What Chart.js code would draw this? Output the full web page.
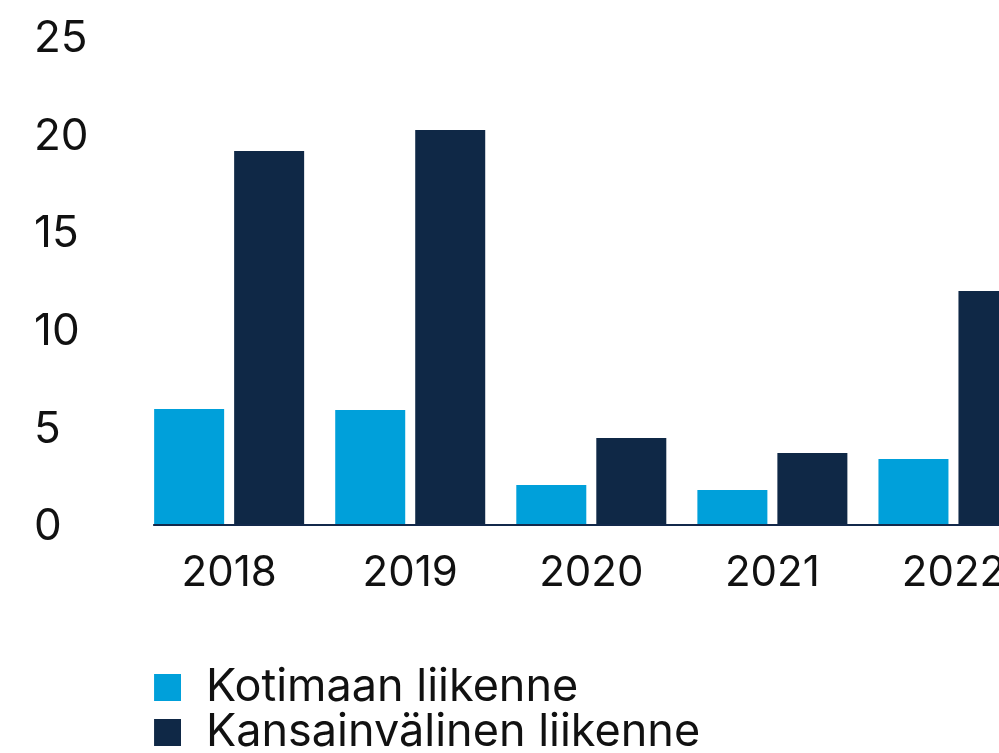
<!DOCTYPE html>
<html>
<head>
<meta charset="utf-8">
<script src="https://cdn.jsdelivr.net/npm/chart.js@4.4.1/dist/chart.umd.min.js"></script>
<style>
  html, body { margin: 0; padding: 0; background: #ffffff; overflow: hidden; }
  #wrap { position: relative; width: 1044px; height: 765px; }
</style>
</head>
<body>
<div id="wrap"><canvas id="c"></canvas></div>
<script>
const categories = ['2018', '2019', '2020', '2021', '2022'];
const seriesNames = ['Kotimaan liikenne', 'Kansainvälinen liikenne'];
const domestic = [5.89, 5.84, 2.0, 1.74, 3.33];
const international = [19.11, 20.18, 4.41, 3.64, 11.94];
const yTicks = [0, 5, 10, 15, 20, 25];

const COLOR_DOM = '#00A0DA';
const COLOR_INT = '#0F2846';
const AXIS_LINE = '#13294B';
const FONT = 'Inter';

function legendSwatch(color) {
  const cv = document.createElement('canvas');
  cv.width = 40; cv.height = 27;
  const g = cv.getContext('2d');
  g.fillStyle = color;
  g.fillRect(13, 0, 27, 27);
  return cv;
}
const swatches = [legendSwatch(COLOR_DOM), legendSwatch(COLOR_INT)];

const baselinePlugin = {
  id: 'baseline',
  afterDatasetsDraw(chart) {
    const meta = chart.getDatasetMeta(0);
    const first = meta.data[0];
    if (!first) return;
    const props = first.getProps(['x', 'width'], true);
    const x0 = props.x - props.width / 2 - 1;
    const y = chart.scales.y.getPixelForValue(0) + 1;
    const ctx = chart.ctx;
    ctx.save();
    ctx.strokeStyle = AXIS_LINE;
    ctx.lineWidth = 2;
    ctx.beginPath();
    ctx.moveTo(x0, y);
    ctx.lineTo(chart.chartArea.right, y);
    ctx.stroke();
    ctx.restore();
  }
};

function draw() {
  Chart.defaults.font.family = FONT;
  Chart.defaults.color = '#111111';
  new Chart(document.getElementById('c'), {
    type: 'bar',
    data: {
      labels: categories,
      datasets: [
        { label: seriesNames[0], data: domestic, backgroundColor: COLOR_DOM },
        { label: seriesNames[1], data: international, backgroundColor: COLOR_INT }
      ]
    },
    options: {
      responsive: true,
      maintainAspectRatio: false,
      animation: false,
      layout: { padding: { top: 36, left: 34, right: 0, bottom: 0 } },
      datasets: { bar: { categoryPercentage: 0.8836, barPercentage: 0.875 } },
      scales: {
        x: {
          grid: { display: false, drawTicks: false },
          border: { display: false },
          ticks: { font: { size: 42 }, padding: 24, color: '#111111' },
          afterFit(scale) { scale.height = 141; }
        },
        y: {
          min: 0, max: 25,
          afterBuildTicks(scale) { scale.ticks = yTicks.map(v => ({ value: v })); },
          grid: { display: false, drawTicks: false },
          border: { display: false },
          ticks: { font: { size: 44 }, padding: 0, crossAlign: 'far', color: '#111111', labelOffset: 3 },
          afterFit(scale) { scale.width = 104.6; }
        }
      },
      plugins: {
        tooltip: { enabled: false },
        legend: {
          position: 'bottom',
          align: 'start',
          fullSize: false,
          labels: {
            font: { size: 45 },
            color: '#111111',
            padding: 0,
            usePointStyle: true,
            pointStyleWidth: 44.9,
            boxHeight: 27,
            generateLabels(chart) {
              const items = Chart.defaults.plugins.legend.labels.generateLabels(chart);
              items.forEach((it, i) => { it.pointStyle = swatches[i]; });
              return items;
            }
          }
        }
      }
    },
    plugins: [baselinePlugin]
  });
}

if (document.fonts && document.fonts.load) {
  document.fonts.load('45px ' + FONT).then(draw, draw);
} else {
  draw();
}
</script>
</body>
</html>
